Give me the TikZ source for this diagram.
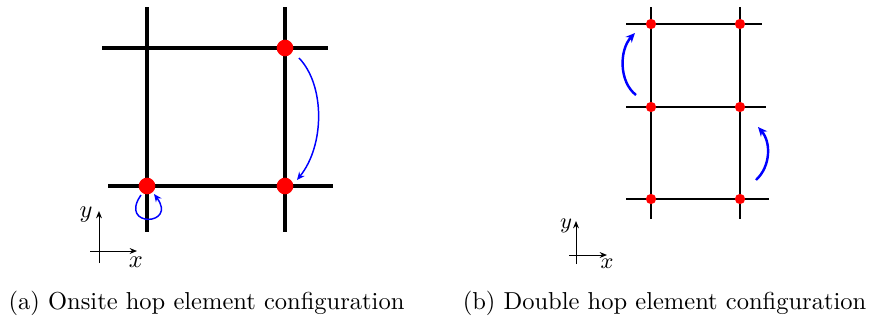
\documentclass[tikz,border=0pt]{standalone}
\usetikzlibrary{arrows.meta}
\tikzset{
  biglat/.style={line width=1.6pt, black},
  smalllat/.style={line width=0.8pt, black},
  bigdot/.style={circle, fill=red, inner sep=0pt, minimum size=6.8pt},
  smalldot/.style={circle, fill=red, inner sep=0pt, minimum size=4.2pt},
  hopa/.style={blue, line width=0.6pt, -{Stealth[length=3.2pt,width=2.8pt]}},
  hopb/.style={blue, line width=1pt, -{Stealth[length=3.8pt,width=3.4pt]}},
  axis/.style={black, line width=0.4pt, -{Stealth[length=3pt,width=2.4pt]}},
}
\begin{document}
\begin{tikzpicture}[x=0.408pt,y=-0.408pt]
\useasboundingbox (0,0) rectangle (872,327);
% ---------- panel (a) ----------
\coordinate (aV1t) at (147,7);   \coordinate (aV1b) at (147,232);
\coordinate (aV2t) at (285,7);   \coordinate (aV2b) at (285,232);
\coordinate (aH1l) at (102,48);  \coordinate (aH1r) at (328,48);
\coordinate (aH2l) at (108,186); \coordinate (aH2r) at (333,186);
\draw[biglat] (aV1t) -- (aV1b);
\draw[biglat] (aV2t) -- (aV2b);
\draw[biglat] (aH1l) -- (aH1r);
\draw[biglat] (aH2l) -- (aH2r);
\node[bigdot] (aTR) at (285,48) {};
\node[bigdot] (aBL) at (147,186) {};
\node[bigdot] (aBR) at (285,186) {};
\coordinate (aA1s) at (299,58); \coordinate (aA1e) at (297,180);
\draw[hopa] (aA1s) .. controls (325,85) and (325,145) .. (aA1e);
\coordinate (aA2s) at (141,195); \coordinate (aA2e) at (154,194);
\draw[hopa] (aA2s) .. controls (118,228) and (178,226) .. (aA2e);
\coordinate (aXs) at (90,251); \coordinate (aXe) at (137,251);
\coordinate (aYs) at (99,263); \coordinate (aYe) at (99,211);
\draw[axis] (aXs) -- (aXe);
\draw[axis] (aYs) -- (aYe);
\node (aylab) at (86,215) {$y$};
\node (axlab) at (136,262) {$x$};
% ---------- panel (b) ----------
\coordinate (bV1t) at (651,7);   \coordinate (bV1b) at (651,219);
\coordinate (bV2t) at (740,7);   \coordinate (bV2b) at (740,219);
\coordinate (bH1l) at (626,24);  \coordinate (bH1r) at (762,24);
\coordinate (bH2l) at (626,107); \coordinate (bH2r) at (766,107);
\coordinate (bH3l) at (626,199); \coordinate (bH3r) at (769,199);
\draw[smalllat] (bV1t) -- (bV1b);
\draw[smalllat] (bV2t) -- (bV2b);
\draw[smalllat] (bH1l) -- (bH1r);
\draw[smalllat] (bH2l) -- (bH2r);
\draw[smalllat] (bH3l) -- (bH3r);
\node[smalldot] (b11) at (651,24) {};
\node[smalldot] (b12) at (740,24) {};
\node[smalldot] (b21) at (651,107) {};
\node[smalldot] (b22) at (740,107) {};
\node[smalldot] (b31) at (651,199) {};
\node[smalldot] (b32) at (740,199) {};
\coordinate (bA1s) at (636,95); \coordinate (bA1e) at (635,33);
\draw[hopb] (bA1s) .. controls (619,82) and (619,50) .. (bA1e);
\coordinate (bA2s) at (756,180); \coordinate (bA2e) at (758,127);
\draw[hopb] (bA2s) .. controls (771,166) and (771,142) .. (bA2e);
\coordinate (bXs) at (569,255); \coordinate (bXe) at (607,255);
\coordinate (bYs) at (576,264); \coordinate (bYe) at (576,221);
\draw[axis] (bXs) -- (bXe);
\draw[axis] (bYs) -- (bYe);
\node[font=\small] (bylab) at (566,226) {$y$};
\node[font=\small] (bxlab) at (607,264) {$x$};
% ---------- captions ----------
\node (capa) at (206.5,303) {(a) Onsite hop element configuration};
\node (capb) at (664.5,303) {(b) Double hop element configuration};
\end{tikzpicture}
\end{document}
